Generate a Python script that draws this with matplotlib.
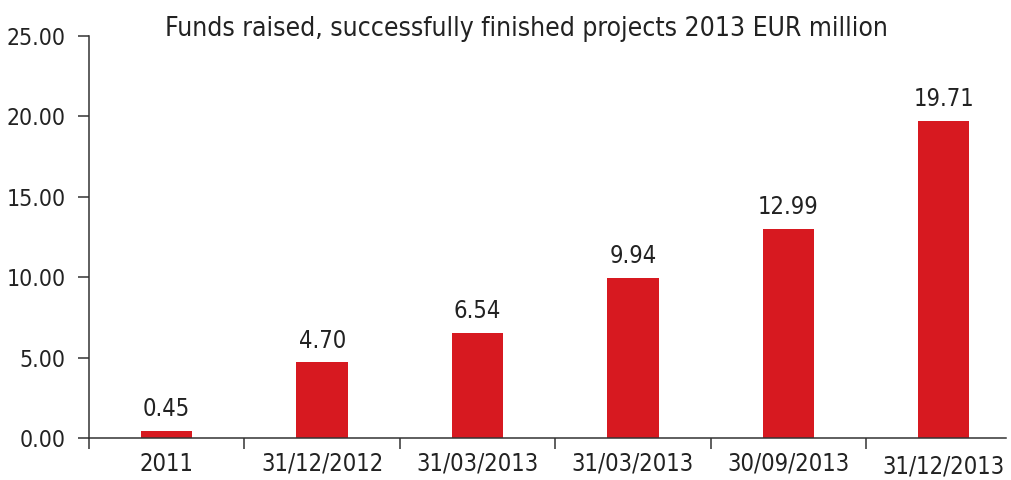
import matplotlib
matplotlib.use("Agg")
import matplotlib.pyplot as plt

# data
categories = ['2011', '31/12/2012', '31/03/2013', '31/03/2013', '30/09/2013', '31/12/2013']
values = [0.45, 4.70, 6.54, 9.94, 12.99, 19.71]
yticks = [0, 5, 10, 15, 20, 25]

RED = '#D71920'
DARK = '#333333'
TXT = '#222222'

plt.rcParams['font.family'] = ['DejaVu Sans']
plt.rcParams['font.stretch'] = 'condensed'

fig = plt.figure(figsize=(10.11, 4.8), dpi=100)
ax = fig.add_axes([89 / 1011, 42 / 480, 917 / 1011, 402 / 480])

x = list(range(len(categories)))
ax.bar(x, values, width=0.33, color=RED, zorder=2)

# value labels above bars
for xi, v in zip(x, values):
    ax.annotate('%.2f' % v, (xi, v), xytext=(0, 7), textcoords='offset points',
                ha='center', va='bottom', fontsize=17, color=TXT)

ax.set_xlim(-0.5, 5.4)
ax.set_ylim(0, 25)

# y axis
ax.set_yticks(yticks)
ax.set_yticklabels(['%.2f' % t for t in yticks])
ax.tick_params(axis='y', length=8, width=1.1, color=DARK, pad=9, labelsize=16.5, labelcolor=TXT)

# x axis: labels at centres, tick marks at boundaries
ax.set_xticks(x)
ax.set_xticklabels(categories)
ax.set_xticks([i - 0.5 for i in range(len(categories))], minor=True)
ax.tick_params(axis='x', which='major', length=0, pad=10, labelsize=17, labelcolor=TXT)
ax.tick_params(axis='x', which='minor', length=8, width=1.1, color=DARK)
ax.get_xticklabels()[-1].set_y(-0.006)

for s in ['top', 'right']:
    ax.spines[s].set_visible(False)
for s in ['left', 'bottom']:
    ax.spines[s].set_color(DARK)
    ax.spines[s].set_linewidth(1.1)

fig.text(526 / 1011, 1 - 29 / 480, 'Funds raised, successfully finished projects 2013 EUR million',
         ha='center', va='center', fontsize=19, color=TXT)

fig.savefig('out.png', dpi=100)
